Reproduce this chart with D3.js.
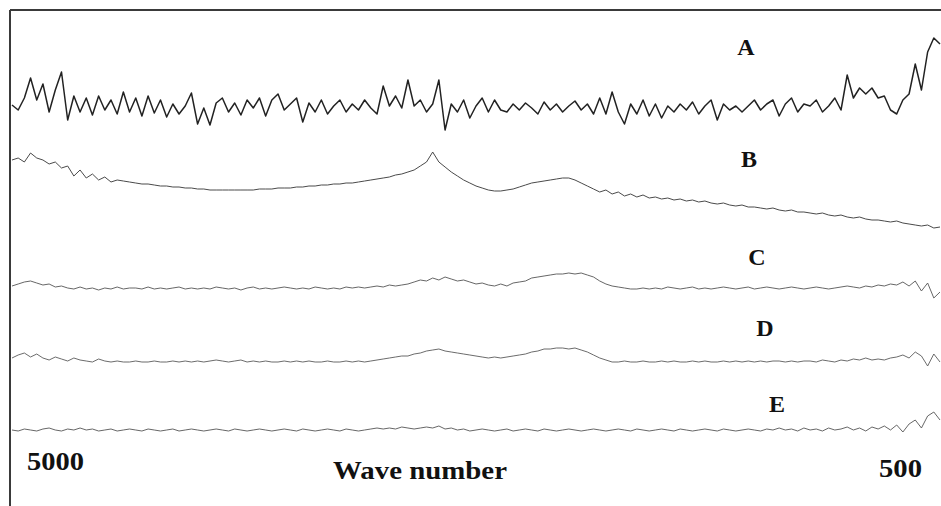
<!DOCTYPE html>
<html>
<head>
<meta charset="utf-8">
<script src="https://cdn.jsdelivr.net/npm/d3@7"></script>
<style>
  html, body { margin: 0; padding: 0; background: #fff; }
  svg { display: block; }
  text { font-family: "Liberation Serif", "Times New Roman", serif; font-weight: bold; fill: #111; }
</style>
</head>
<body>
<svg id="chart" width="941" height="506"></svg>
<script>
  // Données (grille de nombre d'onde : 5000 -> 500, pas de 30 cm-1)
  var waveNumbers = d3.range(5000, 499, -30);

  var labels = ["A", "B", "C", "D", "E"];
  var baselines = [356, 270, 172, 100, 30];

  var seriesA = [-1,-6,6,26,4,20,-8,14,32,-16,8,-8,6,-11,8,-6,4,-10,12,-8,6,-12,8,-9,4,-13,0,-10,-2,11,
    -20,-4,-21,1,6,-8,1,-11,4,-4,6,-12,4,10,-6,0,6,-18,1,-8,4,-10,-2,4,-8,0,-6,4,-4,-10,
    18,-2,8,-4,24,-2,4,-8,0,24,-26,0,-8,4,-14,-2,6,-8,4,-6,-8,0,-6,1,-4,-10,2,-6,0,-8,
    -2,3,-6,0,-10,6,-10,12,-8,-20,0,-10,4,-12,0,-14,-2,-8,0,-6,2,-10,-2,4,-16,0,-6,-2,-8,-2,
    4,-6,0,4,-12,0,6,-8,0,-2,4,-8,-2,6,-6,29,6,16,10,16,6,8,-6,-10,4,10,40,14,52,66,60];

  var seriesB = [30,32,28,37,32,30,26,28,22,24,14,20,12,16,10,13,8,10,9,8,7,6,6,5,4,4,3,3,2,2,
    1,1,0,0,0,0,0,0,0,0,1,1,1,2,2,2,3,3,4,4,5,5,6,6,7,7,8,9,10,11,
    12,13,15,16,18,20,24,28,38,28,23,18,14,10,7,4,2,0,-1,-1,0,1,3,5,7,8,9,10,11,12,
    12,10,7,4,1,-2,0,-4,-2,-6,-4,-7,-5,-8,-7,-9,-8,-10,-9,-11,-10,-12,-11,-13,-14,-13,-15,-16,-15,-17,
    -17,-18,-19,-18,-20,-21,-20,-22,-22,-23,-24,-23,-25,-26,-25,-27,-28,-27,-29,-30,-30,-31,-32,-31,-33,-34,-35,-36,-35,-38,-37];

  var seriesC = [2,4,6,7,5,3,4,1,2,0,-1,1,-1,0,-2,0,-1,1,-1,0,0,-1,1,-1,0,-1,0,1,-1,0,
    -1,0,-1,1,0,-1,0,-2,0,1,-1,0,-1,0,1,0,-1,0,-1,1,0,-1,0,-1,1,0,1,0,1,2,
    1,3,2,3,4,6,8,7,10,8,11,9,7,8,6,4,5,3,2,4,2,5,6,7,10,11,12,13,14,14,
    15,14,15,13,11,7,4,2,1,0,-1,-1,0,-1,0,-1,1,0,-1,0,1,-1,0,-1,0,1,0,-1,0,1,
    -1,0,1,0,-1,0,1,0,-1,0,1,0,-1,0,1,2,1,0,2,1,3,2,4,3,6,2,7,-3,5,-10,-4];

  var seriesD = [2,5,7,3,6,2,0,3,1,-1,2,0,-1,-2,1,-1,-2,-1,-2,-2,-1,-2,-2,-1,-2,-2,-1,-2,-1,-2,
    -1,-2,-1,0,-1,-2,-1,0,-2,-1,-2,-1,-2,-2,-1,-2,-1,-2,-1,-2,-2,-1,-2,-2,-1,-2,-1,-2,-1,0,
    1,2,3,4,4,6,7,9,10,11,9,8,7,6,5,4,3,2,3,2,3,4,5,6,8,9,11,11,12,12,
    11,12,10,8,5,2,0,-2,-2,-1,-2,-2,-1,-2,-2,-1,-2,-1,-2,-2,-1,-2,-1,-2,-2,-1,-2,-1,-2,-1,
    -2,-1,-2,-1,-1,-2,-1,-2,-1,-1,-2,0,-1,-2,0,-1,1,0,2,0,1,0,2,3,5,2,8,4,-6,6,-2];

  var seriesE = [0,-1,1,0,-1,1,2,0,-1,1,0,2,0,1,-1,0,1,-1,0,1,0,-1,1,0,-1,0,1,-1,0,1,
    0,-1,0,1,0,-1,1,0,-1,0,1,0,-1,0,1,0,-1,1,0,-1,0,1,0,-1,1,0,-1,0,1,2,
    1,2,1,3,2,1,2,3,2,4,1,2,0,1,-1,0,1,0,-1,0,1,-1,0,1,0,-1,1,0,-1,0,
    1,0,-1,0,1,0,-1,0,1,0,-1,1,0,-1,0,1,0,-1,1,0,-1,0,1,0,-1,1,0,-1,0,1,
    0,-1,1,0,2,0,1,-1,2,0,1,-1,2,0,1,3,0,2,-1,3,1,4,0,5,-2,6,10,2,14,18,10];

  var allSeries = [seriesA, seriesB, seriesC, seriesD, seriesE];

  /***** Configuration *****/
  var width = 941;
  var height = 506;

  var x = d3.scaleLinear().domain([5000, 500]).range([12, 940]);
  var y = d3.scaleLinear().domain([0, 460]).range([460, 0]);

  var svg = d3.select("#chart");

  // Cadre (haut et gauche seulement visibles)
  svg.append("line")
    .attr("x1", 10).attr("y1", 10).attr("x2", width).attr("y2", 10)
    .attr("stroke", "#3a3a3a").attr("stroke-width", 2);
  svg.append("line")
    .attr("x1", 10).attr("y1", 10).attr("x2", 10).attr("y2", height)
    .attr("stroke", "#3a3a3a").attr("stroke-width", 2);

  var strokes = [1.5, 1, 0.9, 0.9, 0.9];
  var colors = ["#222", "#4a4a4a", "#555", "#5a5a5a", "#555"];

  allSeries.forEach(function (values, k) {
    var line = d3.line()
      .x(function (d, i) { return x(waveNumbers[i]); })
      .y(function (d) { return y(baselines[k] + d); });
    svg.append("path")
      .datum(values)
      .attr("fill", "none")
      .attr("stroke", colors[k])
      .attr("stroke-width", strokes[k])
      .attr("stroke-linejoin", "round")
      .attr("d", line);
  });

  // Étiquettes des spectres
  var labelX = [746, 749, 757, 765, 777];
  var labelY = [55, 167, 265, 336, 412];
  labels.forEach(function (l, k) {
    svg.append("text")
      .attr("x", labelX[k]).attr("y", labelY[k])
      .attr("text-anchor", "middle")
      .style("font-size", "24px")
      .text(l);
  });

  // Axe (texte seulement)
  svg.append("text").attr("x", 27).attr("y", 470)
    .style("font-size", "25px")
    .attr("textLength", 57).attr("lengthAdjust", "spacingAndGlyphs")
    .text("5000");
  svg.append("text").attr("x", 333).attr("y", 479)
    .style("font-size", "25px")
    .attr("textLength", 174).attr("lengthAdjust", "spacingAndGlyphs")
    .text("Wave number");
  svg.append("text").attr("x", 879).attr("y", 477)
    .style("font-size", "25px")
    .attr("textLength", 43).attr("lengthAdjust", "spacingAndGlyphs")
    .text("500");
</script>
</body>
</html>
